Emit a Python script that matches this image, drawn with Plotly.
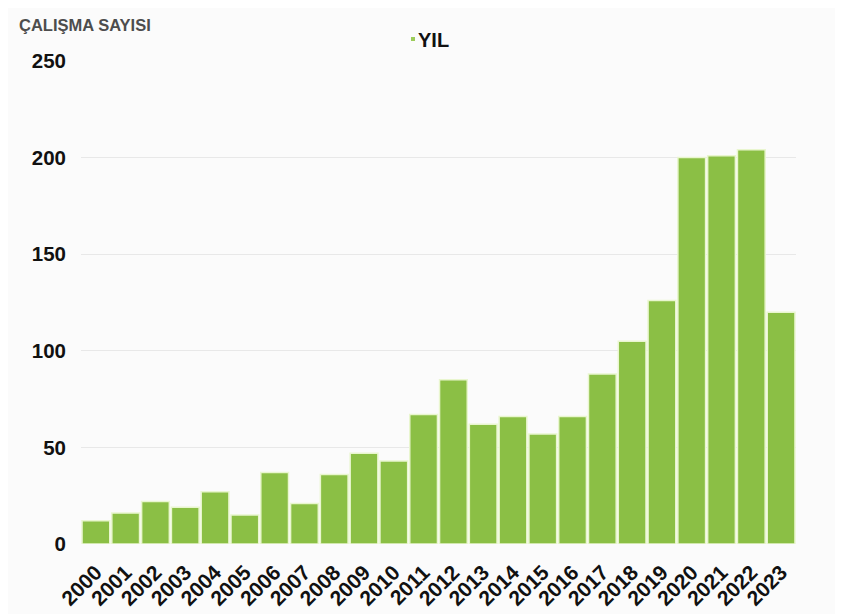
import plotly.graph_objects as go

years = [str(y) for y in range(2000, 2024)]
counts = [12, 16, 22, 19, 27, 15, 37, 21, 36, 47, 43, 67, 85, 62, 66, 57, 66, 88, 105, 126, 200, 201, 204, 120]
y_ticks = [0, 50, 100, 150, 200, 250]
series_name = "YIL"
y_title = "ÇALIŞMA SAYISI"

bar_color = "#8bbf45"
FONT = "Liberation Sans, Arial, sans-serif"

# page has an 8px body margin; figure sized/positioned to compensate
OFF = 8
W, H = 843 - OFF, 614 - OFF
L, R, T, B = 81 - OFF, 47, 61 - OFF, 70
pw, ph = W - L - R, H - T - B

def px(x):
    return (x - OFF - L) / pw

def py(y):
    return (H - B - (y - OFF)) / ph

fig = go.Figure()
fig.add_trace(go.Bar(
    x=years, y=counts, name=series_name, showlegend=False,
    marker=dict(color=bar_color, line=dict(color="#e9f6cf", width=1.5)),
))

fig.update_layout(
    width=W, height=H,
    margin=dict(l=L, r=R, t=T, b=B, autoexpand=False),
    paper_bgcolor="#fbfbfb", plot_bgcolor="#fbfbfb",
    bargap=0.07,
    font=dict(family=FONT, color="#111111"),
    showlegend=False,
    xaxis=dict(
        type="category", tickangle=-45, showgrid=False, zeroline=False, showline=False,
        tickfont=dict(size=21, color="#111111", family=FONT, weight="bold"), ticks="",
        automargin=False, ticklabelstandoff=11,
    ),
    yaxis=dict(
        range=[0, 250], tickvals=y_ticks, showgrid=True, gridcolor="#e8e8e8", gridwidth=1,
        zeroline=False, showline=False, ticks="", automargin=False,
        tickfont=dict(size=20.5, color="#111111", family=FONT, weight="bold"),
        ticklabelstandoff=14,
    ),
    annotations=[
        dict(text=y_title, xref="paper", yref="paper", x=px(17), y=py(25),
             xanchor="left", yanchor="middle", showarrow=False,
             font=dict(size=16.5, color="#4d4d4d", family=FONT, weight="bold")),
        dict(text=series_name, xref="paper", yref="paper", x=px(416), y=py(40),
             xanchor="left", yanchor="middle", showarrow=False,
             font=dict(size=20, color="#111111", family=FONT, weight="bold")),
    ],
    shapes=[dict(type="rect", xref="paper", yref="paper",
                 x0=px(411), x1=px(415), y0=py(41), y1=py(37),
                 fillcolor="#9ccc5a", line=dict(width=0))],
)

fig.write_html("out.html")
